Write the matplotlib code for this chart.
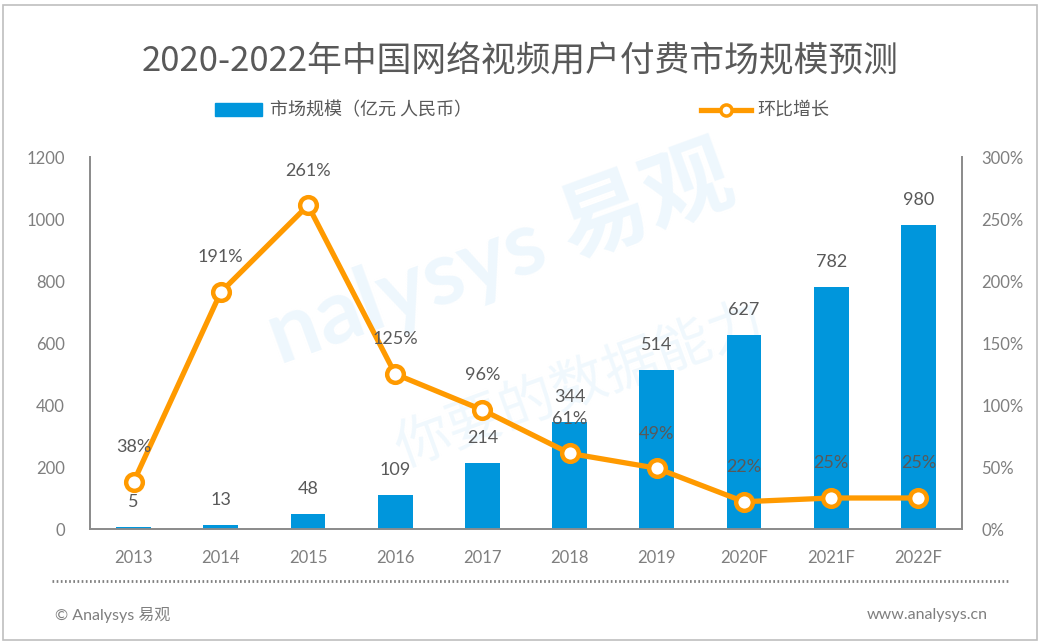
import matplotlib
matplotlib.use("Agg")
import matplotlib.pyplot as plt
from matplotlib import font_manager
from matplotlib.patches import Rectangle
from matplotlib.lines import Line2D

years = ["2013", "2014", "2015", "2016", "2017", "2018", "2019", "2020F", "2021F", "2022F"]
market_size = [5, 13, 48, 109, 214, 344, 514, 627, 782, 980]
growth_pct = [38, 191, 261, 125, 96, 61, 49, 22, 25, 25]
left_ticks = [0, 200, 400, 600, 800, 1000, 1200]
right_ticks = [0, 50, 100, 150, 200, 250, 300]

title = "2020-2022年中国网络视频用户付费市场规模预测"
bar_label = "市场规模（亿元 人民币）"
line_label = "环比增长"

names = {f.name for f in font_manager.fontManager.ttflist}
cjk = "Noto Sans CJK SC"
narrow = "Liberation Sans Narrow" if "Liberation Sans Narrow" in names else ("Lato" if "Lato" in names else "DejaVu Sans")
lat = "Lato" if "Lato" in names else "DejaVu Sans"
plt.rcParams['font.family'] = [cjk, "DejaVu Sans"]

BLUE = "#0096DC"
ORANGE = "#FF9A00"
GREY_TXT = "#595959"
TICK_TXT = "#7F7F7F"
AX_COL = "#8C8C8C"

fig = plt.figure(figsize=(10.41, 6.44), dpi=100)

# watermark (behind everything)
fig.text(500/1041, 1-255/644, "nalysys 易观", fontsize=64, color="#EEF7FD", rotation=20,
         ha="center", va="center", family=[lat, cjk], fontweight="bold", zorder=-5)
fig.text(580/1041, 1-385/644, "你要的数据能力", fontsize=40, color="#F0F8FD", rotation=20,
         ha="center", va="center", family=[cjk], zorder=-5)

ax = fig.add_axes([90/1041, 1-529/644, (962-90)/1041, (529-157)/644])
ax2 = ax.twinx()
ax.patch.set_alpha(0)
ax2.patch.set_alpha(0)

x = list(range(len(years)))
ax.bar(x, market_size, width=0.4, color=BLUE, zorder=3)
ax.set_xlim(-0.5, len(years) - 0.5)
ax.set_ylim(0, 1200)
ax.set_yticks(left_ticks)
ax.set_yticklabels([str(t) for t in left_ticks])
ax.set_xticks(x)
ax.set_xticklabels(years)

ax2.plot(x, growth_pct, color=ORANGE, lw=3.8, marker="o", markersize=12,
         markerfacecolor="white", markeredgecolor=ORANGE, markeredgewidth=3.2, zorder=5)
ax2.set_ylim(0, 300)
ax2.set_yticks(right_ticks)
ax2.set_yticklabels([f"{t}%" for t in right_ticks])

for a in (ax, ax2):
    a.spines["top"].set_visible(False)
    for s in ("left", "right", "bottom"):
        a.spines[s].set_color(AX_COL)
        a.spines[s].set_linewidth(1.3)
    a.tick_params(length=0, colors=TICK_TXT, labelsize=12)
    for lab in a.get_xticklabels() + a.get_yticklabels():
        lab.set_family([narrow, cjk])
ax.tick_params(axis="y", pad=18)
ax.tick_params(axis="x", pad=15)
ax2.tick_params(axis="y", pad=14)

for xi, v in zip(x, market_size):
    ax.annotate(str(v), (xi, v), xytext=(0, 18), textcoords="offset points",
                ha="center", va="center", fontsize=13, color=GREY_TXT,
                family=[lat, cjk], zorder=6)
for xi, v in zip(x, growth_pct):
    ax2.annotate(f"{v}%", (xi, v), xytext=(0, 25), textcoords="offset points",
                 ha="center", va="center", fontsize=13, color=GREY_TXT,
                 family=[lat, cjk], zorder=6)

fig.text(0.5, 1-62/644, title, ha="center", va="center", fontsize=25, color=GREY_TXT)

# legend
fig.patches.append(Rectangle((215/1041, 1-116/644), 47/1041, 13/644,
                             transform=fig.transFigure, color=BLUE, figure=fig))
fig.text(270/1041, 1-110/644, bar_label, ha="left", va="center", fontsize=13, color=GREY_TXT)
fig.lines.append(Line2D([701/1041, 751/1041], [1-110/644, 1-110/644], transform=fig.transFigure,
                        color=ORANGE, lw=3.8, figure=fig))
fig.lines.append(Line2D([726/1041], [1-110/644], transform=fig.transFigure, marker="o",
                        markersize=8, markerfacecolor="white", markeredgecolor=ORANGE,
                        markeredgewidth=2.5, figure=fig))
fig.text(757/1041, 1-110/644, line_label, ha="left", va="center", fontsize=13, color=GREY_TXT)

# footer
fig.lines.append(Line2D([52/1041, 1010/1041], [1-581/644, 1-581/644], transform=fig.transFigure,
                        color="#7F7F7F", lw=2, linestyle=(0, (0.6, 0.9)), figure=fig))
fig.text(55/1041, 1-615/644, "© Analysys 易观", ha="left", va="center", fontsize=11.5,
         color="#7F7F7F", family=[narrow, cjk])
fig.text(988/1041, 1-615/644, "www.analysys.cn", ha="right", va="center", fontsize=11.5,
         color="#7F7F7F", family=[narrow, cjk])

# frame
fig.patches.append(Rectangle((3/1041, 4/644), 1034/1041, 635/644, transform=fig.transFigure,
                             fill=False, edgecolor="#BFBFBF", lw=1.2, figure=fig))

fig.savefig("out.png", dpi=100)
